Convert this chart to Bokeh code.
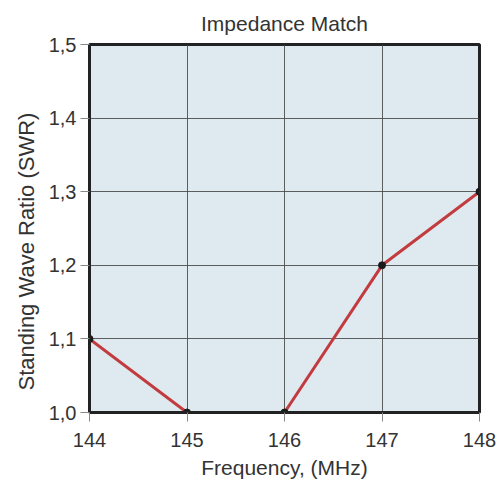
from bokeh.plotting import figure
from bokeh.models import ColumnDataSource, CustomJSTickFormatter, FixedTicker, Range1d, Title
from bokeh.embed import file_html
from bokeh.resources import INLINE

freq = [144, 145, 146, 147, 148]
swr = [1.1, 1.0, 1.0, 1.2, 1.3]
x_ticks = [144, 145, 146, 147, 148]
y_ticks = [1.0, 1.1, 1.2, 1.3, 1.4, 1.5]

src = ColumnDataSource(dict(x=freq, y=swr))

p = figure(width=497, height=481, output_backend="svg", toolbar_location=None,
           x_range=Range1d(144, 148), y_range=Range1d(1.0, 1.5),
           min_border_left=89, min_border_right=18, min_border_top=43, min_border_bottom=68)
p.title.text = "Impedance Match"
p.title.align = "center"
p.title.text_font = "Liberation Sans"
p.title.text_font_size = "21px"
p.title.text_font_style = "normal"
p.title.text_color = "#333333"
p.title.offset = 0
p.title.standoff = 19

p.background_fill_color = "#dfe9f0"
p.outline_line_color = "#222222"
p.outline_line_width = 3

p.xaxis.ticker = FixedTicker(ticks=x_ticks)
p.yaxis.ticker = FixedTicker(ticks=y_ticks)
p.yaxis.formatter = CustomJSTickFormatter(code="return tick.toFixed(1).replace('.', ',');")

for ax in (p.xaxis, p.yaxis):
    ax.axis_line_color = "#222222"
    ax.axis_line_width = 3
    ax.major_tick_line_color = "#888888"
    ax.major_tick_out = 9
    ax.major_tick_in = 0
    ax.minor_tick_line_color = None
    ax.major_label_text_font = "Liberation Sans"
    ax.major_label_text_font_size = "20px"
    ax.major_label_text_color = "#333333"
    ax.axis_label_text_font = "Liberation Sans"
    ax.axis_label_text_font_size = "21px"
    ax.axis_label_text_font_style = "normal"
    ax.axis_label_text_color = "#333333"

p.xaxis.axis_label = "Frequency, (MHz)"
p.xaxis.major_label_standoff = 11
p.yaxis.major_label_standoff = 4
p.xaxis.axis_label_standoff = 6

ylab = Title(text="Standing Wave Ratio (SWR)", align="left", offset=22,
             text_font="Liberation Sans", text_font_size="22px",
             text_font_style="normal", text_color="#333333", standoff=14)
p.add_layout(ylab, "left")

p.grid.grid_line_color = "#444444"
p.grid.grid_line_width = 1
p.grid.grid_line_alpha = 0.85

p.line("x", "y", source=src, line_color="#c23b3f", line_width=3)
p.scatter("x", "y", source=src, size=7, fill_color="#1a1a1a", line_color="#1a1a1a")

open("out.html", "w").write(file_html(p, INLINE))
